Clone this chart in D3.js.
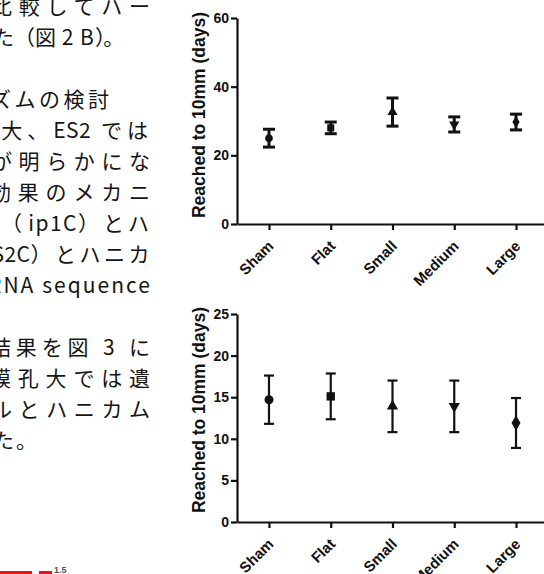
<!DOCTYPE html>
<html><head><meta charset="utf-8">
<script src="https://cdn.jsdelivr.net/npm/d3@7"></script>
<style>
html,body{margin:0;padding:0;background:#fff;}
svg{display:block;}
</style></head>
<body>
<svg id="c" width="544" height="574"></svg>
<script>
// ---- data ----
const categories = ["Sham", "Flat", "Small", "Medium", "Large"];
const topMean = [25, 28, 32.6, 29, 29.7];
const topErr  = [2.6, 1.7, 4.1, 2.2, 2.3];
const topTicks = [0, 20, 40, 60];
const botMean = [14.7, 15.1, 13.9, 13.9, 11.9];
const botErr  = [2.9, 2.75, 3.1, 3.1, 3.0];
const botTicks = [0, 5, 10, 15, 20, 25];
const yTitle = "Reached to 10mm (days)";
const markerShapes = ["circle", "square", "triUp", "triDown", "diamond"];

// left column text (page of a Japanese report, cut at the left edge)
// mode: "just" = justified across the column, "end" = right aligned segments, "start" = left aligned
const textLines = [
  {row: 0,  mode: "just", x0: -9,  segs: [["比較してハー", 0]]},
  {row: 1,  mode: "start", x0: -7, segs: [["た（図", 0], [" 2 B", 1], ["）。", -2]]},
  {row: 3,  mode: "start", x0: -10, segs: [["ズムの検討", 3.5]]},
  {row: 4,  mode: "end", segs: [["大、", 5], ["ES2", 0.5], [" では", 5]]},
  {row: 5,  mode: "just", x0: -9,  segs: [["が明らかにな", 0]]},
  {row: 6,  mode: "just", x0: -10, segs: [["効果のメカニ", 0]]},
  {row: 7,  mode: "end", segs: [["（", 0], [" ip1C", 1.5], ["）とハ", 4]]},
  {row: 8,  mode: "end", segs: [["S2C", 0.5], ["）とハニカ", 3.5]]},
  {row: 9,  mode: "just", x0: -12, segs: [["RNA sequence", 0]]},
  {row: 11, mode: "just", x0: -10, segs: [["結果を図 3 に", 0]]},
  {row: 12, mode: "just", x0: -10, segs: [["膜孔大では遺", 0]]},
  {row: 13, mode: "just", x0: -9,  segs: [["ルとハニカム", 0]]},
  {row: 14, mode: "start", x0: -7, segs: [["た。", 2]]}
];
const cornerLabel = "1.5";

const svg = d3.select("#c");
svg.append("rect").attr("width", 544).attr("height", 574).attr("fill", "#fff");

// ---- left text ----
const tg = svg.append("g")
  .attr("font-family", "'Noto Sans CJK JP', 'Noto Sans CJK SC', sans-serif")
  .attr("font-size", 21).attr("fill", "#151515");
const rowY = d3.scaleLinear().domain([0, 14]).range([13.5, 447.5]);
const colRight = 150;
textLines.forEach(l => {
  const el = tg.append("text").attr("y", rowY(l.row));
  l.segs.forEach(s => el.append("tspan").attr("letter-spacing", s[1]).text(s[0]));
  if (l.mode === "just") {
    el.attr("x", l.x0).attr("textLength", colRight - l.x0).attr("lengthAdjust", "spacing");
  } else if (l.mode === "end") {
    el.attr("x", colRight + 3).attr("text-anchor", "end");
  } else {
    el.attr("x", l.x0);
  }
});
// bottom-left fragment
svg.append("rect").attr("x", 0).attr("y", 571).attr("width", 32).attr("height", 4).attr("fill", "#e8141b");
svg.append("rect").attr("x", 39).attr("y", 571).attr("width", 13).attr("height", 4).attr("fill", "#e8141b");
svg.append("text").attr("x", 54).attr("y", 573).attr("font-family", "'Liberation Sans', Arial, sans-serif")
  .attr("font-size", 9).attr("font-weight", "bold").attr("fill", "#555").text(cornerLabel);

// ---- charts ----
function symbolPath(shape, s) {
  const map = {
    circle: d3.symbolCircle, square: d3.symbolSquare, triUp: d3.symbolTriangle,
    triDown: d3.symbolTriangle, diamond: d3.symbolDiamond
  };
  return d3.symbol().type(map[shape]).size(s)();
}

function drawChart(cfg) {
  const g = svg.append("g")
    .attr("font-family", "'Liberation Sans', Arial, Helvetica, sans-serif")
    .attr("font-weight", "bold");
  const x = d3.scalePoint().domain(categories).range([237, 548]).padding(0.518);
  const y = d3.scaleLinear().domain([0, cfg.max]).range([cfg.y0, cfg.y1]);

  const ya = g.append("g").attr("transform", "translate(237,0)")
    .call(d3.axisLeft(y).tickValues(cfg.ticks).tickSize(6).tickSizeOuter(0).tickPadding(2));
  ya.selectAll("path,line").attr("stroke", "#111").attr("stroke-width", 2.2);
  ya.selectAll("text").attr("font-size", 14).attr("fill", "#111");

  const xa = g.append("g").attr("transform", `translate(0,${cfg.y0})`)
    .call(d3.axisBottom(x).tickSize(6).tickSizeOuter(0));
  xa.selectAll("path,line").attr("stroke", "#111").attr("stroke-width", 2.2);
  xa.selectAll("text").attr("font-size", 15).attr("fill", "#111")
    .attr("x", 0).attr("y", 0).attr("dy", 0)
    .attr("text-anchor", "end")
    .attr("transform", "translate(5,23) rotate(-45)");

  g.append("text").attr("transform", `translate(205,${cfg.tc}) rotate(-90)`)
    .attr("text-anchor", "middle").attr("font-size", 17.5).attr("fill", "#111").text(yTitle);

  const pts = g.append("g").selectAll("g").data(categories).join("g")
    .attr("transform", d => `translate(${x(d)},0)`);
  const sw = cfg.sw, cap = cfg.cap;
  pts.append("line").attr("y1", (d, i) => y(cfg.mean[i] + cfg.err[i])).attr("y2", (d, i) => y(cfg.mean[i] - cfg.err[i]))
    .attr("stroke", "#111").attr("stroke-width", sw);
  pts.append("line").attr("x1", -cap).attr("x2", cap).attr("y1", (d, i) => y(cfg.mean[i] + cfg.err[i])).attr("y2", (d, i) => y(cfg.mean[i] + cfg.err[i]))
    .attr("stroke", "#111").attr("stroke-width", sw);
  pts.append("line").attr("x1", -cap).attr("x2", cap).attr("y1", (d, i) => y(cfg.mean[i] - cfg.err[i])).attr("y2", (d, i) => y(cfg.mean[i] - cfg.err[i]))
    .attr("stroke", "#111").attr("stroke-width", sw);
  pts.append("path")
    .attr("d", (d, i) => symbolPath(markerShapes[i], cfg.ms[i]))
    .attr("transform", (d, i) => `translate(0,${y(cfg.mean[i])})` + (markerShapes[i] === "triDown" ? " rotate(180)" : ""))
    .attr("fill", "#111");
}

drawChart({max: 60, y0: 224, y1: 18, tc: 115, ticks: topTicks, mean: topMean, err: topErr, sw: 3, cap: 6,
  ms: [45, 50, 45, 45, 45]});
drawChart({max: 25, y0: 522, y1: 314, tc: 410, ticks: botTicks, mean: botMean, err: botErr, sw: 2.2, cap: 5,
  ms: [64, 70, 55, 55, 70]});
</script>
</body></html>
